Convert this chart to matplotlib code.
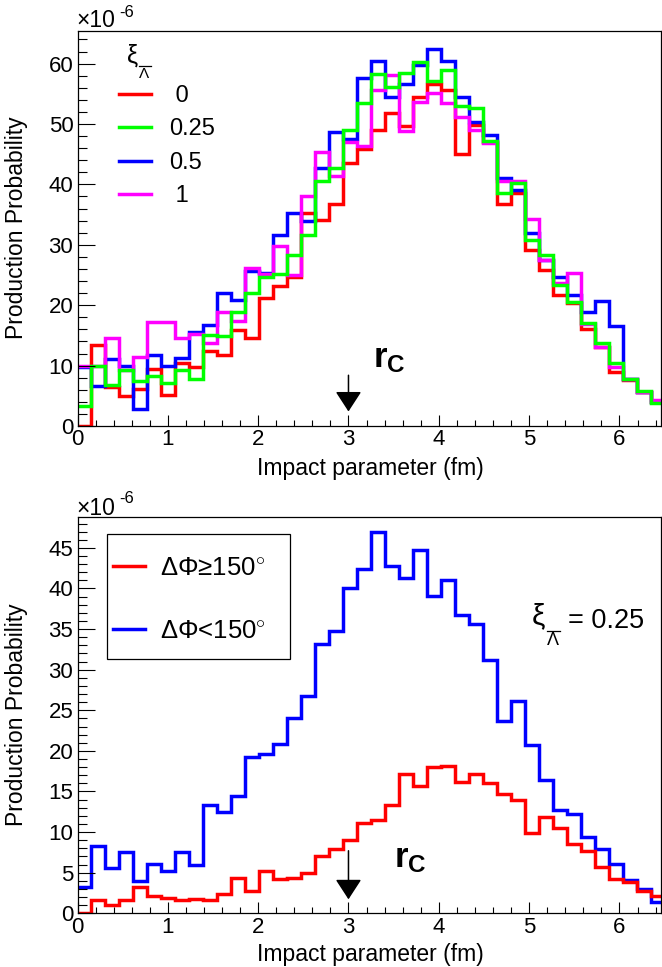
import matplotlib
matplotlib.use('Agg')
import matplotlib.pyplot as plt
import numpy as np
from matplotlib.lines import Line2D
from matplotlib.patches import Rectangle
from matplotlib.ticker import MultipleLocator

plt.rcParams['font.family'] = ['Liberation Sans', 'DejaVu Sans']
plt.rcParams['mathtext.fontset'] = 'custom'
plt.rcParams['mathtext.rm'] = 'Liberation Sans'
plt.rcParams['mathtext.it'] = 'Liberation Sans:italic'
plt.rcParams['mathtext.bf'] = 'Liberation Sans:bold'
plt.rcParams['mathtext.sf'] = 'Liberation Sans'

# ---------------- data ----------------
N_BINS = 42
X_MAX_HIST = 6.5
rc_value = 3.0
xi_value_text = '= 0.25'

top_labels = [' 0', '0.25', '0.5', ' 1']
top_colors = ['#ff0000', '#00ff00', '#0000ff', '#ff00ff']

top_xi0 = [0, 13.4, 6.4, 5.0, 6.1, 9.5, 5.1, 10.5, 9.7, 12.5,
           11.8, 15.9, 14.6, 21.2, 23.1, 24.6, 35.3, 34.1, 36.8, 43.5,
           45.9, 49.0, 51.8, 49.6, 54.5, 56.6, 55.7, 45.1, 49.8, 47.1,
           36.8, 38.5, 29.2, 25.9, 21.7, 20.3, 16.0, 13.1, 9.0, 7.6,
           5.7, 4.0]
top_xi025 = [3.3, 10.0, 6.8, 9.3, 7.5, 8.3, 7.2, 9.3, 7.8, 15.1,
             14.9, 18.8, 22.1, 24.7, 25.1, 28.3, 31.7, 40.5, 42.7, 49.0,
             53.4, 58.3, 56.1, 58.4, 60.2, 57.1, 58.9, 52.9, 52.7, 47.2,
             38.5, 40.2, 30.8, 28.3, 23.3, 20.6, 17.1, 13.7, 10.4, 7.8,
             5.8, 3.75]
top_xi05 = [9.8, 6.6, 11.1, 10.0, 2.8, 11.8, 10.0, 11.2, 15.5, 16.7,
            22.1, 20.9, 25.7, 25.3, 31.6, 35.3, 34.0, 42.7, 48.6, 47.6,
            57.6, 60.4, 54.5, 56.7, 59.7, 62.4, 60.4, 54.4, 50.4, 48.1,
            41.0, 39.0, 31.9, 27.5, 24.6, 21.7, 18.8, 20.7, 16.6, 7.7,
            5.7, 3.9]
top_xi1 = [10.0, 10.0, 14.5, 9.3, 11.4, 17.3, 17.2, 14.5, 15.2, 13.7,
           18.8, 17.4, 26.2, 25.2, 29.8, 25.0, 38.0, 45.4, 41.4, 47.1,
           46.4, 55.7, 58.1, 48.8, 53.7, 55.1, 53.4, 51.1, 49.0, 46.8,
           40.6, 40.6, 34.2, 27.5, 23.7, 25.3, 16.9, 13.1, 9.8, 7.8,
           5.7, 4.3]

bot_labels = ['\u0394\u03a6\u2265150$^{\\circ}$', '\u0394\u03a6<150$^{\\circ}$']
bot_colors = ['#ff0000', '#0000ff']
bot_ge150 = [0, 1.6, 1.0, 1.6, 3.3, 2.1, 1.9, 1.6, 1.8, 1.6,
             2.4, 4.4, 2.8, 5.2, 4.2, 4.3, 5.0, 7.1, 7.9, 9.0,
             11.1, 11.5, 13.3, 17.2, 15.7, 18.0, 18.1, 16.2, 17.2, 16.0,
             14.7, 14.0, 9.9, 11.9, 10.5, 8.5, 7.7, 5.7, 4.2, 3.8,
             2.8, 2.1]
bot_lt150 = [3.3, 8.3, 5.6, 7.5, 4.0, 6.1, 5.2, 7.5, 5.9, 13.3,
             12.5, 14.5, 19.3, 19.6, 20.9, 24.0, 26.7, 33.2, 34.8, 40.0,
             42.4, 46.9, 42.8, 41.3, 44.7, 39.1, 41.0, 36.7, 35.6, 31.2,
             23.7, 26.1, 20.7, 16.4, 12.7, 12.2, 9.4, 7.9, 6.1, 4.1,
             3.0, 1.4]

edges = np.linspace(0, X_MAX_HIST, N_BINS + 1)

# ---------------- figure ----------------
W, H = 662, 967
fig = plt.figure(figsize=(W / 100, H / 100), dpi=100)


def fx(p):
    return p / W


def fy(p):
    return 1 - p / H


L, R = 77.5, 661
ax1 = fig.add_axes([fx(L), fy(426), fx(R) - fx(L), fy(30.7) - fy(426)])
ax2 = fig.add_axes([fx(L), fy(913.3), fx(R) - fx(L), fy(516.7) - fy(913.3)])

LW = 2.5
# draw order: red, blue, magenta, green (green on top)
for vals, col in [(top_xi0, top_colors[0]), (top_xi05, top_colors[2]),
                  (top_xi1, top_colors[3]), (top_xi025, top_colors[1])]:
    ax1.stairs(vals, edges, baseline=None, color=col, lw=LW, joinstyle='miter')

for vals, col in [(bot_lt150, bot_colors[1]), (bot_ge150, bot_colors[0])]:
    ax2.stairs(vals, edges, baseline=None, color=col, lw=LW, joinstyle='miter')

ax1.set_ylim(0, 65.45)
ax2.set_ylim(0, 48.84)
for ax, ymaj, ymin in [(ax1, 10, 2), (ax2, 5, 1)]:
    ax.set_xlim(0, 6.46)
    ax.xaxis.set_major_locator(MultipleLocator(1))
    ax.xaxis.set_minor_locator(MultipleLocator(0.2))
    ax.yaxis.set_major_locator(MultipleLocator(ymaj))
    ax.yaxis.set_minor_locator(MultipleLocator(ymin))
    for s in ax.spines.values():
        s.set_linewidth(0.9)
    ax.tick_params(which='both', direction='in', top=False, right=False,
                   labelsize=16, width=0.8, colors='black')
    ax.tick_params(axis='y', which='major', length=12.5, pad=3)
    ax.tick_params(axis='y', which='minor', length=6.5)
    ax.tick_params(axis='x', which='major', length=8, pad=2.5)
    ax.tick_params(axis='x', which='minor', length=4.2)

# axis titles
for yc_lab, yc_x in [(228, 468), (715, 955)]:
    fig.text(fx(17), fy(yc_lab), 'Production Probability', rotation=90,
             ha='center', va='center', fontsize=16.5)
    fig.text(fx(370), fy(yc_x), 'Impact parameter (fm)', ha='center',
             va='center', fontsize=16.5)

# exponent labels
for base_main, base_exp in [(27, 17), (515, 503)]:
    fig.text(fx(76), fy(base_main), '\u00d710', fontsize=16.5, va='baseline', ha='left')
    fig.text(fx(119), fy(base_exp), '-6', fontsize=12, va='baseline', ha='left')


def xi_lambdabar(x0, base, xi_size, lam_x, lam_base, lam_size, bar_y, bar_x0, bar_x1):
    fig.text(fx(x0), fy(base), '\u03be', fontsize=xi_size, va='baseline', ha='left')
    fig.text(fx(lam_x), fy(lam_base), '\u039b', fontsize=lam_size, va='baseline', ha='left')
    fig.add_artist(Line2D([fx(bar_x0), fx(bar_x1)], [fy(bar_y), fy(bar_y)],
                          color='black', lw=0.9, transform=fig.transFigure))


# top legend
xi_lambdabar(127, 63, 18, 139, 78.3, 11, 65.5, 139, 151)
for lab, col, yy in zip(top_labels, top_colors, [94.3, 127.3, 161.3, 194.3]):
    fig.add_artist(Line2D([fx(119), fx(151)], [fy(yy), fy(yy)], color=col,
                          lw=LW, transform=fig.transFigure))
    fig.text(fx(169), fy(yy + 2), lab, fontsize=17, va='center', ha='left')

# bottom legend
fig.add_artist(Rectangle((fx(106.7), fy(659)), fx(290) - fx(106.7), fy(534.3) - fy(659),
                         transform=fig.transFigure, facecolor='white',
                         edgecolor='black', lw=0.9))
for lab, col, yy in zip(bot_labels, bot_colors, [566, 629]):
    fig.add_artist(Line2D([fx(113), fx(145)], [fy(yy), fy(yy)], color=col,
                          lw=LW, transform=fig.transFigure))
    fig.text(fx(160), fy(yy + 2), lab, fontsize=18.5, va='center', ha='left')

xi_lambdabar(532, 624, 21.5, 547, 645, 13, 630.5, 547, 560)
fig.text(fx(568), fy(627.7), xi_value_text, fontsize=19.5, va='baseline', ha='left')

# r_C labels and arrows
fig.text(fx(373), fy(367), r'$\mathbf{r}_{\mathbf{C}}$', fontsize=25,
         va='baseline', ha='left')
fig.text(fx(394), fy(867), r'$\mathbf{r}_{\mathbf{C}}$', fontsize=25,
         va='baseline', ha='left')

arrow_kw = dict(arrowstyle='-|>,head_length=1.0,head_width=0.65', color='black',
                lw=1.1, mutation_scale=12.5, shrinkA=0, shrinkB=0)
ax1.annotate('', xy=(rc_value, 2.4), xytext=(rc_value, 8.4), arrowprops=arrow_kw)
ax2.annotate('', xy=(rc_value, 1.72), xytext=(rc_value, 7.7), arrowprops=arrow_kw)

fig.savefig('out.png', dpi=100)
